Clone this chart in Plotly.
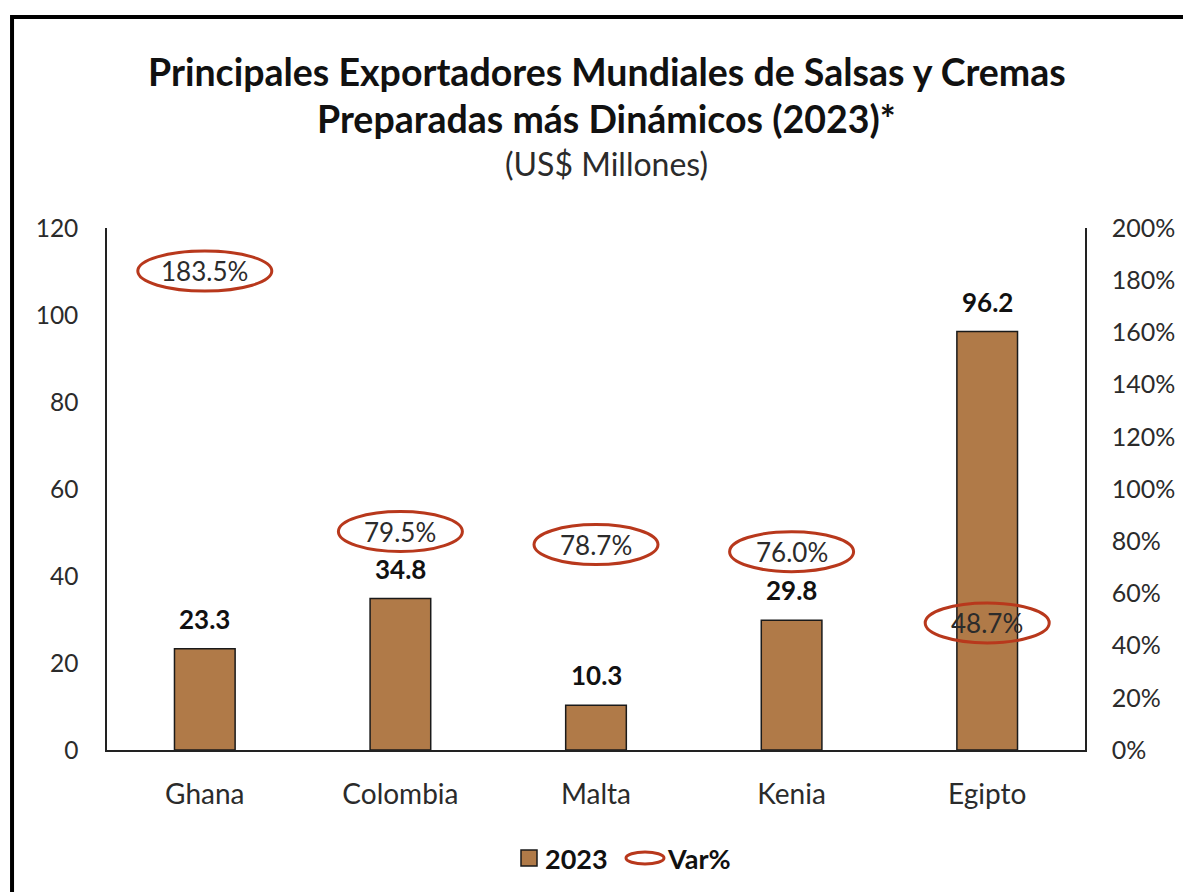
import plotly.graph_objects as go

categories = ["Ghana", "Colombia", "Malta", "Kenia", "Egipto"]
values_2023 = [23.3, 34.8, 10.3, 29.8, 96.2]
var_pct = [183.5, 79.5, 78.7, 76.0, 48.7]
left_ticks = [0, 20, 40, 60, 80, 100, 120]
right_ticks = [0, 20, 40, 60, 80, 100, 120, 140, 160, 180, 200]

BAR = "#B07A48"
RED = "#B8381C"
TXT = "#2b2b2b"
FONT = "Lato"

# manual label nudges (pixels, like a dragged Excel data label)
var_label_nudge = {1: 11}

fig = go.Figure()
fig.add_trace(go.Bar(
    x=list(range(len(categories))), y=values_2023, name="2023",
    marker=dict(color=BAR, line=dict(color="#1a1a1a", width=1.5)),
    width=0.31, showlegend=False, hoverinfo="skip"))

# invisible Var% trace to keep the secondary axis in place
fig.add_trace(go.Scatter(
    x=list(range(len(categories))), y=var_pct, yaxis="y2", mode="markers",
    marker=dict(size=1, opacity=0), name="Var%",
    showlegend=False, hoverinfo="skip"))

shapes = []
annotations = []
for i, v in enumerate(var_pct):
    hw = 67 if i == 0 else 62
    dy = var_label_nudge.get(i, 0)
    shapes.append(dict(type="circle", xref="x", yref="y2",
                       xsizemode="pixel", ysizemode="pixel",
                       xanchor=i, yanchor=v, x0=-hw, x1=hw,
                       y0=-20 + dy, y1=20 + dy,
                       line=dict(color=RED, width=3), layer="above"))
    annotations.append(dict(x=i, y=v, xref="x", yref="y2", text=f"{v:.1f}%",
                            showarrow=False, yanchor="middle", yshift=dy,
                            font=dict(family=FONT, size=26, color=TXT)))

# outer frame
shapes.append(dict(type="rect", xref="paper", yref="paper",
                   x0=-0.0971, x1=1.3, y0=-0.5, y1=1.404,
                   line=dict(color="black", width=4), layer="below"))

for i, v in enumerate(values_2023):
    annotations.append(dict(x=i, y=v, xref="x", yref="y", text=f"<b>{v:.1f}</b>",
                            showarrow=False, yshift=30, yanchor="middle",
                            font=dict(family=FONT, size=26, color="#111")))

annotations += [
    dict(x=0.511, y=1.2989, xref="paper", yref="paper", showarrow=False,
         yanchor="middle",
         text="<b>Principales Exportadores Mundiales de Salsas y Cremas</b>",
         font=dict(family=FONT, size=37.5, color="#111")),
    dict(x=0.511, y=1.2107, xref="paper", yref="paper", showarrow=False,
         yanchor="middle",
         text="<b>Preparadas más Dinámicos (2023)*</b>",
         font=dict(family=FONT, size=37.5, color="#111")),
    dict(x=0.511, y=1.1245, xref="paper", yref="paper", showarrow=False,
         yanchor="middle",
         text="(US$ Millones)",
         font=dict(family=FONT, size=32, color=TXT)),
]

# manual legend
ly = -0.2069
shapes.append(dict(type="rect", xref="paper", yref="paper",
                   x0=(521 - 107) / 978, x1=(537 - 107) / 978,
                   y0=ly - 8 / 522, y1=ly + 8 / 522,
                   fillcolor=BAR, line=dict(color="#1a1a1a", width=1.5)))
annotations.append(dict(x=(543 - 107) / 978, y=ly, xref="paper", yref="paper",
                        xanchor="left", yanchor="middle", showarrow=False,
                        text="<b>2023</b>",
                        font=dict(family=FONT, size=27, color="#111")))
shapes.append(dict(type="circle", xref="paper", yref="paper",
                   x0=(626 - 107) / 978, x1=(664 - 107) / 978,
                   y0=ly - 6 / 522, y1=ly + 6 / 522,
                   line=dict(color=RED, width=3)))
annotations.append(dict(x=(665 - 107) / 978, y=ly, xref="paper", yref="paper",
                        xanchor="left", yanchor="middle", showarrow=False,
                        text="<b>Var%</b>",
                        font=dict(family=FONT, size=27, color="#111")))

fig.update_layout(
    width=1191, height=892,
    margin=dict(l=99, r=114, t=220, b=150),
    paper_bgcolor="white", plot_bgcolor="white",
    showlegend=False,
    shapes=shapes, annotations=annotations,
    xaxis=dict(tickmode="array", tickvals=list(range(len(categories))),
               ticktext=categories, range=[-0.5, 4.5],
               showline=True, linecolor="#222", linewidth=1.5,
               showgrid=False, zeroline=False, ticks="",
               ticklabelstandoff=19,
               tickfont=dict(family=FONT, size=28, color=TXT)),
    yaxis=dict(range=[0, 120], tickvals=left_ticks,
               showline=True, linecolor="#222", linewidth=1.5,
               showgrid=False, zeroline=False, ticks="",
               ticklabelstandoff=22,
               tickfont=dict(family=FONT, size=24.5, color=TXT)),
    yaxis2=dict(range=[0, 200], tickvals=right_ticks,
                ticktext=[f"{t}%" for t in right_ticks],
                overlaying="y", side="right",
                showline=True, linecolor="#222", linewidth=1.5,
                showgrid=False, zeroline=False, ticks="",
                ticklabelstandoff=20,
                tickfont=dict(family=FONT, size=25, color=TXT)),
)

fig.write_html("out.html")
